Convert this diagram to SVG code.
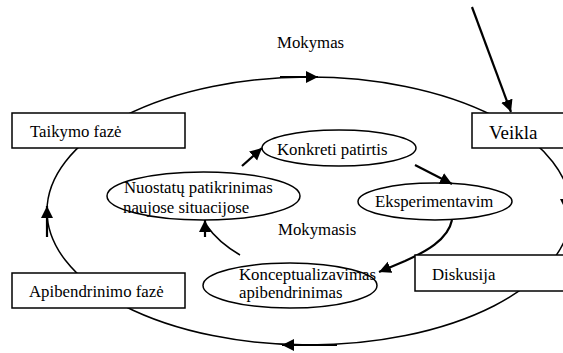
<svg xmlns="http://www.w3.org/2000/svg" width="563" height="353" viewBox="0 0 563 353">
<style>
.box{fill:#fff;stroke:#000;stroke-width:1.5}
.ell{fill:none;stroke:#000;stroke-width:1.5}
.ln{fill:none;stroke:#000;stroke-width:1.5}
.arr{fill:none;stroke:#000;stroke-width:2.2}
</style>
<defs>
<marker id="ah" markerUnits="userSpaceOnUse" markerWidth="14" markerHeight="14" refX="12" refY="6" orient="auto"><path d="M0,0 L12,6 L0,12 z" fill="#000"/></marker>
</defs>
<rect width="563" height="353" fill="#fff"/>
<g id="connectors">
<ellipse class="ln" cx="309" cy="211" rx="262" ry="134"/>
<line class="arr" marker-end="url(#ah)" x1="280" y1="77" x2="318" y2="77"/>
<line class="arr" marker-end="url(#ah)" x1="337" y1="345" x2="282" y2="345"/>
<line class="arr" marker-end="url(#ah)" x1="47" y1="237" x2="47" y2="206"/>
<polygon points="560,199 574,199 567,213" fill="#000"/>
<line class="arr" marker-end="url(#ah)" x1="472" y1="7" x2="511" y2="112"/>
<line class="arr" marker-end="url(#ah)" x1="242" y1="166" x2="262" y2="148"/>
<line class="arr" marker-end="url(#ah)" x1="415" y1="165" x2="452" y2="184"/>
<path class="arr" marker-end="url(#ah)" d="M452,220 C448,240 425,252 405,261 L379,272"/>
<path class="ln" d="M240,255 Q218,242 207,226"/>
<line class="arr" marker-end="url(#ah)" x1="205" y1="237" x2="205" y2="220"/>
</g>
<g id="taikymo"><rect class="box" x="12" y="113" width="173" height="35"/><text x="30" y="137" font-family="Liberation Serif" font-size="16.8">Taikymo fazė</text></g>
<g id="veikla"><rect class="box" x="472" y="113" width="120" height="35"/><text x="489" y="139" font-family="Liberation Serif" font-size="19">Veikla</text></g>
<g id="apibendrinimo"><rect class="box" x="12" y="273" width="173" height="35"/><text x="29" y="297" font-family="Liberation Serif" font-size="16.8">Apibendrinimo fazė</text></g>
<g id="diskusija"><rect class="box" x="415" y="255" width="180" height="36"/><text x="432" y="280" font-family="Liberation Serif" font-size="16.8">Diskusija</text></g>
<g id="konkreti"><ellipse class="ell" cx="339" cy="148" rx="77" ry="18"/><text x="277" y="155" font-family="Liberation Serif" font-size="16.8">Konkreti patirtis</text></g>
<g id="nuostatu"><ellipse class="ell" cx="203.5" cy="196" rx="96.5" ry="24"/><text x="124" y="193" font-family="Liberation Serif" font-size="16.8">Nuostatų patikrinimas</text><text x="123" y="213" font-family="Liberation Serif" font-size="16.8">naujose situacijose</text></g>
<g id="eksperimentavim"><ellipse class="ell" cx="435" cy="201.5" rx="77" ry="18.5"/><text x="375" y="207" font-family="Liberation Serif" font-size="16.8">Eksperimentavim</text></g>
<g id="konceptualizavimas"><ellipse class="ell" cx="290" cy="285.5" rx="87" ry="22.5"/><text x="239" y="280" font-family="Liberation Serif" font-size="16.8">Konceptualizavimas</text><text x="239" y="298" font-family="Liberation Serif" font-size="16.8">apibendrinimas</text></g>
<g id="labels"><text x="277" y="48" font-family="Liberation Serif" font-size="16.8">Mokymas</text><text x="278" y="235" font-family="Liberation Serif" font-size="16.8">Mokymasis</text></g>
</svg>
